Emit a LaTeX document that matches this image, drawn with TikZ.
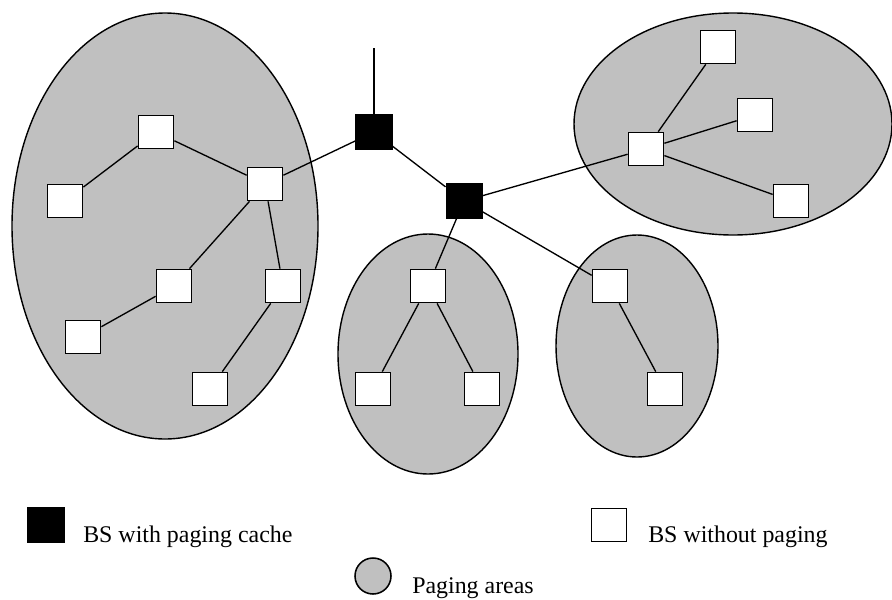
\documentclass[tikz,border=0pt]{standalone}
\usepackage{fontspec}
\setmainfont{Liberation Serif}
\definecolor{areagray}{RGB}{192,192,192}

\pgfdeclarelayer{arealayer}
\pgfdeclarelayer{edgelayer}
\pgfdeclarelayer{nodelayer}
\pgfsetlayers{arealayer,edgelayer,nodelayer,main}
\tikzstyle{none}=[inner sep=0pt]
\tikzstyle{cache_bs}=[rectangle,draw=black,fill=black,line width=1pt,minimum width=0.89cm,minimum height=0.85cm,inner sep=0pt]
\tikzstyle{plain_bs}=[rectangle,draw=black,fill=white,line width=1.1pt,minimum width=0.88cm,minimum height=0.83cm,inner sep=0pt]
\tikzstyle{area}=[draw=black,fill=areagray,line width=1pt]
\tikzstyle{link}=[draw=black,line width=0.95pt]
\tikzstyle{legend}=[inner sep=0pt,anchor=base west,font=\fontsize{17}{20}\selectfont]

\begin{document}
\begin{tikzpicture}[x=0.025cm,y=-0.025cm]
	\useasboundingbox (0,0) rectangle (892,599);
	\begin{pgfonlayer}{arealayer}
		\draw [style=area] (165,226) ellipse [x radius=153,y radius=213];
		\draw [style=area] (428,354) ellipse [x radius=90,y radius=120];
		\draw [style=area] (637,346) ellipse [x radius=81,y radius=111];
		\draw [style=area] (733,124) ellipse [x radius=159,y radius=111];
	\end{pgfonlayer}
	\begin{pgfonlayer}{nodelayer}
		\node [style={cache_bs}] (0) at (374,132) {};
		\node [style={cache_bs}] (1) at (464,201) {};
		\node [style={plain_bs}] (2) at (156,132) {};
		\node [style={plain_bs}] (3) at (65,201) {};
		\node [style={plain_bs}] (4) at (265,184) {};
		\node [style={plain_bs}] (5) at (174,286) {};
		\node [style={plain_bs}] (6) at (283,286) {};
		\node [style={plain_bs}] (7) at (83,337) {};
		\node [style={plain_bs}] (8) at (210,389) {};
		\node [style={plain_bs}] (9) at (428,286) {};
		\node [style={plain_bs}] (10) at (373,389) {};
		\node [style={plain_bs}] (11) at (482,389) {};
		\node [style={plain_bs}] (12) at (610,286) {};
		\node [style={plain_bs}] (13) at (665,389) {};
		\node [style={plain_bs}] (14) at (646,149) {};
		\node [style={plain_bs}] (15) at (718,47) {};
		\node [style={plain_bs}] (16) at (755,115) {};
		\node [style={plain_bs}] (17) at (791,201) {};
		\coordinate (18) at (374,48);
		% legend
		\node [style={cache_bs}] (19) at (46,525) {};
		\node [style=legend] (20) at (83,542) {BS with paging cache};
		\node [style={plain_bs}] (21) at (609,525) {};
		\node [style=legend] (22) at (648,542) {BS without paging};
		\node [circle,draw=black,fill=areagray,line width=1.1pt,minimum size=0.9cm,inner sep=0pt] (23) at (373,576) {};
		\node [style=legend] (24) at (412,593) {Paging areas};
	\end{pgfonlayer}
	\begin{pgfonlayer}{edgelayer}
		\draw [style=link] (18) to (0);
		\draw [style=link] (0) to (4);
		\draw [style=link] (0) to (1);
		\draw [style=link] (1) to (9);
		\draw [style=link] (1) to (12);
		\draw [style=link] (1) to (14);
		\draw [style=link] (2) to (3);
		\draw [style=link] (2) to (4);
		\draw [style=link] (4) to (5);
		\draw [style=link] (4) to (6);
		\draw [style=link] (5) to (7);
		\draw [style=link] (6) to (8);
		\draw [style=link] (9) to (10);
		\draw [style=link] (9) to (11);
		\draw [style=link] (12) to (13);
		\draw [style=link] (14) to (15);
		\draw [style=link] (14) to (16);
		\draw [style=link] (14) to (17);
	\end{pgfonlayer}
\end{tikzpicture}
\end{document}
